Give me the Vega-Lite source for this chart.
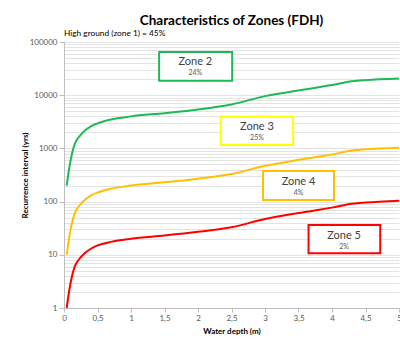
{
  "$schema": "https://vega.github.io/schema/vega-lite/v6.json",
  "autosize": {"type": "none"},
  "width": 335,
  "height": 266,
  "padding": {"left": 64, "top": 42, "right": 1, "bottom": 33},
  "background": "white",
  "title": {
    "text": "Characteristics of Zones (FDH)",
    "font": "Lato",
    "fontSize": 13.5,
    "fontWeight": "bold",
    "color": "#000000",
    "anchor": "middle",
    "offset": 2
  },
  "config": {
    "font": "Lato",
    "view": {"stroke": null},
    "axis": {
      "labelFont": "Lato",
      "titleFont": "Lato",
      "labelColor": "#595959",
      "labelFontSize": 8,
      "titleFontSize": 8,
      "titleFontWeight": "bold",
      "titleColor": "#000000",
      "domainColor": "#bfbfbf",
      "tickColor": "#bfbfbf",
      "gridColor": "#e3e3e3"
    }
  },
  "datasets": {
    "curves": [
      {"series": "Zone 5", "x": 0.04, "y": 1},
      {"series": "Zone 5", "x": 0.08, "y": 2.2},
      {"series": "Zone 5", "x": 0.12, "y": 4},
      {"series": "Zone 5", "x": 0.16, "y": 6},
      {"series": "Zone 5", "x": 0.2, "y": 7.5},
      {"series": "Zone 5", "x": 0.25, "y": 9},
      {"series": "Zone 5", "x": 0.3, "y": 10.5},
      {"series": "Zone 5", "x": 0.4, "y": 13},
      {"series": "Zone 5", "x": 0.5, "y": 15},
      {"series": "Zone 5", "x": 0.7, "y": 17.5},
      {"series": "Zone 5", "x": 1.0, "y": 20},
      {"series": "Zone 5", "x": 1.5, "y": 23},
      {"series": "Zone 5", "x": 2.0, "y": 27},
      {"series": "Zone 5", "x": 2.5, "y": 33},
      {"series": "Zone 5", "x": 3.0, "y": 47},
      {"series": "Zone 5", "x": 3.5, "y": 61},
      {"series": "Zone 5", "x": 4.0, "y": 77},
      {"series": "Zone 5", "x": 4.3, "y": 91},
      {"series": "Zone 5", "x": 4.5, "y": 96},
      {"series": "Zone 5", "x": 5.0, "y": 104},
      {"series": "Zone 4", "x": 0.04, "y": 10},
      {"series": "Zone 4", "x": 0.08, "y": 22},
      {"series": "Zone 4", "x": 0.12, "y": 40},
      {"series": "Zone 4", "x": 0.16, "y": 60},
      {"series": "Zone 4", "x": 0.2, "y": 75},
      {"series": "Zone 4", "x": 0.25, "y": 90},
      {"series": "Zone 4", "x": 0.3, "y": 105},
      {"series": "Zone 4", "x": 0.4, "y": 130},
      {"series": "Zone 4", "x": 0.5, "y": 148},
      {"series": "Zone 4", "x": 0.7, "y": 175},
      {"series": "Zone 4", "x": 1.0, "y": 200},
      {"series": "Zone 4", "x": 1.5, "y": 230},
      {"series": "Zone 4", "x": 2.0, "y": 270},
      {"series": "Zone 4", "x": 2.5, "y": 330},
      {"series": "Zone 4", "x": 3.0, "y": 470},
      {"series": "Zone 4", "x": 3.5, "y": 610},
      {"series": "Zone 4", "x": 4.0, "y": 770},
      {"series": "Zone 4", "x": 4.3, "y": 910},
      {"series": "Zone 4", "x": 4.5, "y": 960},
      {"series": "Zone 4", "x": 5.0, "y": 1030},
      {"series": "Zone 2", "x": 0.04, "y": 200},
      {"series": "Zone 2", "x": 0.08, "y": 440},
      {"series": "Zone 2", "x": 0.12, "y": 800},
      {"series": "Zone 2", "x": 0.16, "y": 1200},
      {"series": "Zone 2", "x": 0.2, "y": 1500},
      {"series": "Zone 2", "x": 0.25, "y": 1800},
      {"series": "Zone 2", "x": 0.3, "y": 2100},
      {"series": "Zone 2", "x": 0.4, "y": 2600},
      {"series": "Zone 2", "x": 0.5, "y": 2960},
      {"series": "Zone 2", "x": 0.7, "y": 3500},
      {"series": "Zone 2", "x": 1.0, "y": 4000},
      {"series": "Zone 2", "x": 1.5, "y": 4600},
      {"series": "Zone 2", "x": 2.0, "y": 5400},
      {"series": "Zone 2", "x": 2.5, "y": 6700},
      {"series": "Zone 2", "x": 3.0, "y": 9600},
      {"series": "Zone 2", "x": 3.5, "y": 12300},
      {"series": "Zone 2", "x": 4.0, "y": 15500},
      {"series": "Zone 2", "x": 4.3, "y": 18200},
      {"series": "Zone 2", "x": 4.5, "y": 19200},
      {"series": "Zone 2", "x": 5.0, "y": 20700}
    ],
    "boxes": [
      {"series": "Zone 2", "name": "Zone 2", "pct": "24%", "x1": 1.42, "x2": 2.51, "y1": 64900, "y2": 18600, "ty": 41500, "py": 25800, "tx": 1.96},
      {"series": "Zone 3", "name": "Zone 3", "pct": "25%", "x1": 2.34, "x2": 3.42, "y1": 3945, "y2": 1159, "ty": 2500, "py": 1550, "tx": 2.88},
      {"series": "Zone 4", "name": "Zone 4", "pct": "4%", "x1": 2.97, "x2": 4.03, "y1": 376, "y2": 107, "ty": 237, "py": 143, "tx": 3.5},
      {"series": "Zone 5", "name": "Zone 5", "pct": "2%", "x1": 3.65, "x2": 4.72, "y1": 36.3, "y2": 10.7, "ty": 22.5, "py": 14.2, "tx": 4.18}
    ],
    "note": [
      {"text": "High ground (zone 1) = 45%", "x": 0, "y": 100000}
    ]
  },
  "layer": [
    {
      "data": {"name": "curves"},
      "mark": {"type": "line", "interpolate": "monotone", "strokeWidth": 2},
      "encoding": {
        "x": {
          "field": "x", "type": "quantitative",
          "scale": {"domain": [0, 5], "nice": false},
          "axis": {
            "title": "Water depth (m)",
            "values": [0, 0.5, 1, 1.5, 2, 2.5, 3, 3.5, 4, 4.5, 5],
            "tickCount": 20,
            "format": "~g",
            "labelExpr": "replace(datum.label, '.', ',')",
            "labelOverlap": false,
            "labelFlush": false,
            "grid": false,
            "tickSize": 4,
            "labelPadding": 2,
            "titlePadding": 5
          }
        },
        "y": {
          "field": "y", "type": "quantitative",
          "scale": {"type": "log", "domain": [1, 100000], "nice": false},
          "axis": {
            "title": "Recurrence interval (yrs)",
            "values": [1,2,3,4,5,6,7,8,9,10,20,30,40,50,60,70,80,90,100,200,300,400,500,600,700,800,900,1000,2000,3000,4000,5000,6000,7000,8000,9000,10000,20000,30000,40000,50000,60000,70000,80000,90000,100000],
            "tickCount": 100,
            "labelOverlap": false,
            "labelExpr": "indexof([1,10,100,1000,10000,100000], datum.value) >= 0 ? format(datum.value, 'd') : ''",
            "tickOpacity": {"condition": {"test": "indexof([1,10,100,1000,10000,100000], datum.value) >= 0", "value": 1}, "value": 0},
            "tickSize": 5,
            "labelPadding": 2,
            "titlePadding": 0,
            "grid": true
          }
        },
        "color": {
          "field": "series", "type": "nominal",
          "scale": {"domain": ["Zone 2", "Zone 3", "Zone 4", "Zone 5"], "range": ["#1db954", "#ffff00", "#ffc000", "#ff0000"]},
          "legend": null
        }
      }
    },
    {
      "data": {"name": "boxes"},
      "mark": {"type": "rect", "fill": "white", "strokeWidth": 2},
      "encoding": {
        "x": {"field": "x1", "type": "quantitative"},
        "x2": {"field": "x2"},
        "y": {"field": "y1", "type": "quantitative"},
        "y2": {"field": "y2"},
        "stroke": {
          "field": "series", "type": "nominal",
          "scale": {"domain": ["Zone 2", "Zone 3", "Zone 4", "Zone 5"], "range": ["#1db954", "#ffff00", "#ffc000", "#ff0000"]},
          "legend": null
        }
      }
    },
    {
      "data": {"name": "boxes"},
      "mark": {"type": "text", "fontSize": 11, "color": "#404040", "align": "center", "baseline": "middle"},
      "encoding": {
        "x": {"field": "tx", "type": "quantitative"},
        "y": {"field": "ty", "type": "quantitative"},
        "text": {"field": "name"}
      }
    },
    {
      "data": {"name": "boxes"},
      "mark": {"type": "text", "fontSize": 7, "color": "#595959", "align": "center", "baseline": "middle"},
      "encoding": {
        "x": {"field": "tx", "type": "quantitative"},
        "y": {"field": "py", "type": "quantitative"},
        "text": {"field": "pct"}
      }
    },
    {
      "data": {"name": "note"},
      "mark": {"type": "text", "fontSize": 8.3, "color": "#000000", "align": "left", "baseline": "middle", "dy": -8, "clip": false},
      "encoding": {
        "x": {"field": "x", "type": "quantitative"},
        "y": {"field": "y", "type": "quantitative"},
        "text": {"field": "text"}
      }
    }
  ]
}
